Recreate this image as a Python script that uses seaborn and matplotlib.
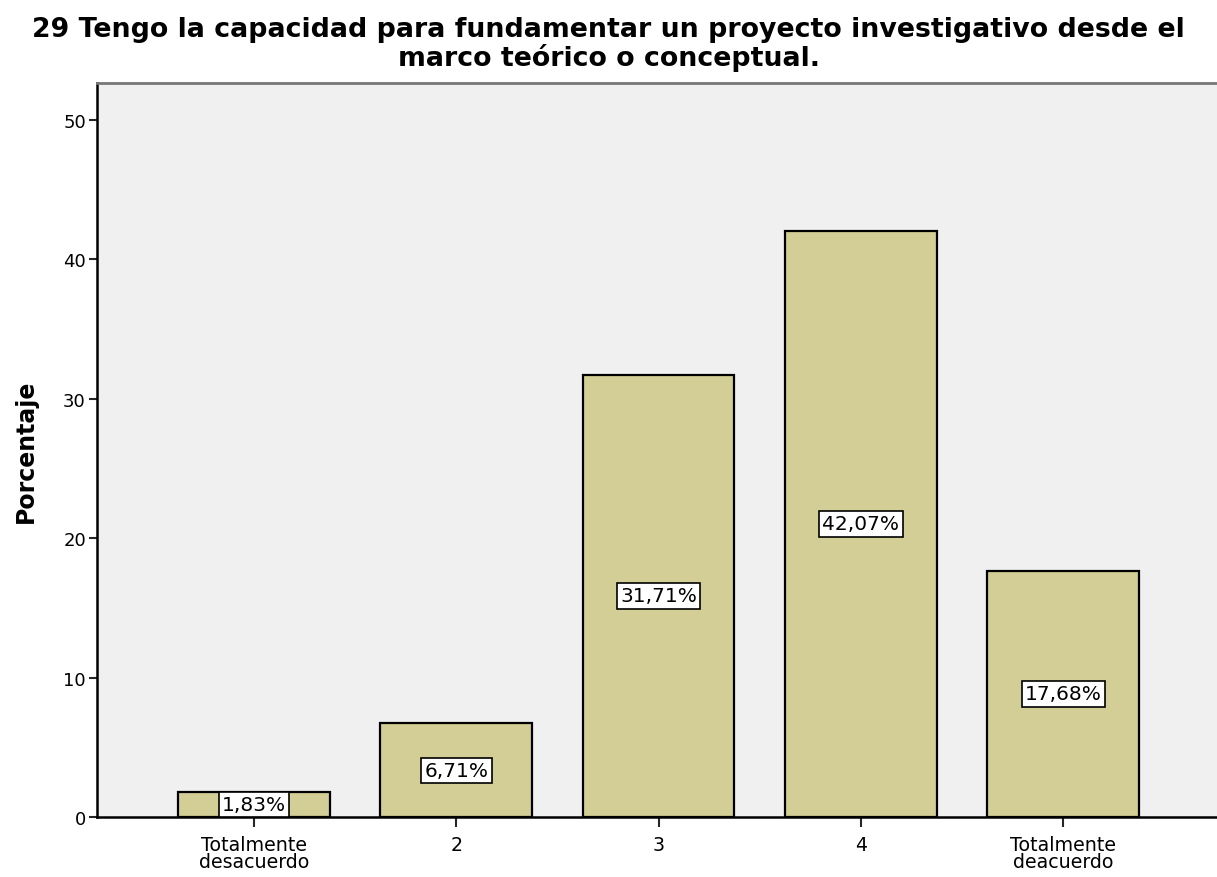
import matplotlib
matplotlib.use("Agg")
import matplotlib.pyplot as plt
import seaborn as sns
import pandas as pd

# datos
categorias = ["Totalmente\ndesacuerdo", "2", "3", "4", "Totalmente\ndeacuerdo"]
porcentajes = [1.83, 6.71, 31.71, 42.07, 17.68]
etiquetas = ["1,83%", "6,71%", "31,71%", "42,07%", "17,68%"]
yticks = [0, 10, 20, 30, 40, 50]

titulo = ("29 Tengo la capacidad para fundamentar un proyecto investigativo desde el\n"
          "marco teórico o conceptual.")

sns.set_style("white")
plt.rcParams['font.family'] = ['DejaVu Sans']

df = pd.DataFrame({'categoria': categorias, 'porcentaje': porcentajes})

fig = plt.figure(figsize=(12.17, 8.78), dpi=100)
ax = fig.add_axes([0.0797, 0.0683, 0.9203, 0.836])
ax.set_facecolor('#F0F0F0')

sns.barplot(data=df, x='categoria', y='porcentaje', ax=ax, color='#D2CE96',
            saturation=1, width=0.75, edgecolor='black', linewidth=1.6)

# etiquetas en el centro de cada barra
for i, (v, lab) in enumerate(zip(porcentajes, etiquetas)):
    ax.text(i, v / 2, lab, ha='center', va='center', fontsize=14.5, color='black',
            bbox=dict(boxstyle='square,pad=0.16', facecolor='white',
                      edgecolor='black', linewidth=1.2))

ax.set_xlim(-0.776, 4.76)
ax.set_ylim(0, 52.65)
ax.set_yticks(yticks)
ax.set_xlabel('')
ax.set_ylabel('Porcentaje', fontsize=17, fontweight='bold', color='black')
ax.yaxis.set_label_coords(-0.053, 0.5)
ax.tick_params(axis='y', direction='out', length=6, width=1.5, labelsize=13, left=True, pad=2,
               labelcolor='black')
ax.tick_params(axis='x', direction='out', length=7, width=1.5, labelsize=13.7, bottom=True, pad=6,
               labelcolor='black')
for lab in ax.get_xticklabels():
    lab.set_linespacing(0.85)

ax.spines['left'].set_color('black')
ax.spines['left'].set_linewidth(1.8)
ax.spines['bottom'].set_color('black')
ax.spines['bottom'].set_linewidth(1.8)
ax.spines['top'].set_color('#777777')
ax.spines['top'].set_linewidth(2)
ax.spines['right'].set_visible(False)

fig.text(0.5, 1 - 17 / 878, titulo, ha='center', va='top', fontsize=19.3,
         fontweight='bold', linespacing=1.05, color='black')

fig.savefig('out.png', dpi=100)
